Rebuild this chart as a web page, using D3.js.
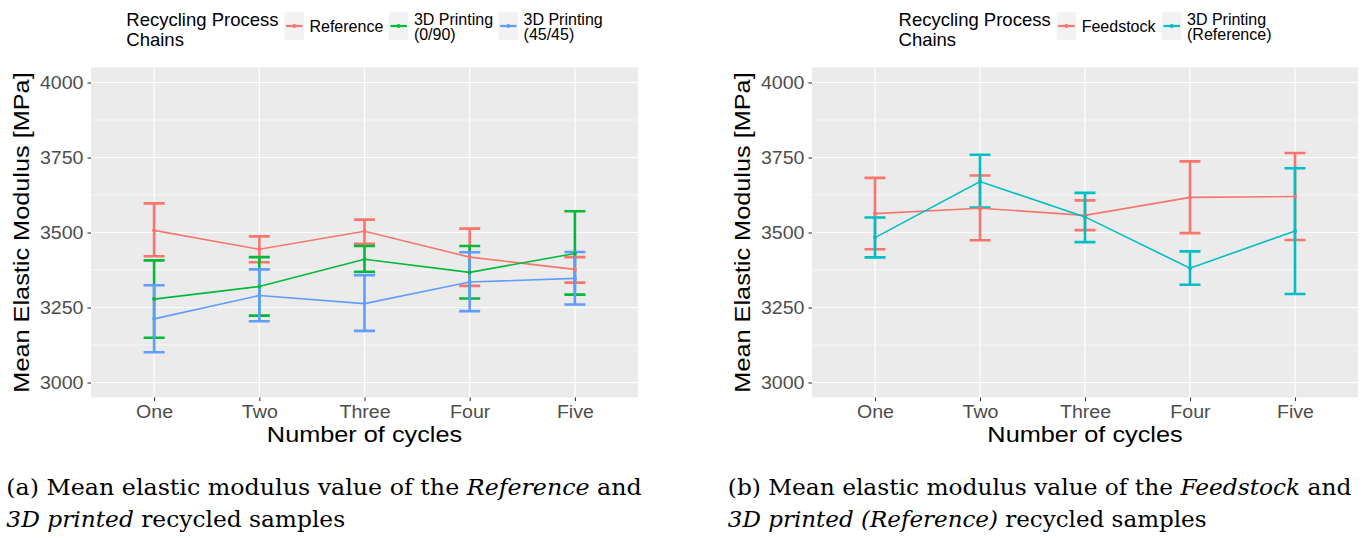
<!DOCTYPE html>
<html><head><meta charset="utf-8">
<script src="https://cdn.jsdelivr.net/npm/d3@7"></script>
<style>body{margin:0;background:#fff;} svg{display:block;}</style>
</head><body><svg id="c" width="1371" height="538"></svg>
<script>
// ---------- DATA ----------
const cycles = ["One", "Two", "Three", "Four", "Five"];
const yTicks = [3000, 3250, 3500, 3750, 4000];
const yMinor = [3125, 3375, 3625, 3875];
const legendTitle = ["Recycling Process", "Chains"];

// Panel (a)
const seriesA = ["Reference", "3D Printing\n(0/90)", "3D Printing\n(45/45)"];
const refMean  = [3507, 3444, 3504, 3418, 3377];
const refLow   = [3421, 3401, 3462, 3322, 3333];
const refHigh  = [3597, 3487, 3543, 3513, 3418];
const p090Mean = [3278, 3320, 3411, 3367, 3430];
const p090Low  = [3149, 3223, 3369, 3280, 3293];
const p090High = [3407, 3418, 3455, 3455, 3571];
const p4545Mean = [3212, 3290, 3263, 3335, 3347];
const p4545Low  = [3101, 3204, 3172, 3238, 3260];
const p4545High = [3324, 3377, 3358, 3434, 3435];

// Panel (b)
const seriesB = ["Feedstock", "3D Printing\n(Reference)"];
const feedMean = [3563, 3581, 3557, 3617, 3620];
const feedLow  = [3444, 3474, 3508, 3498, 3475];
const feedHigh = [3682, 3690, 3607, 3737, 3765];
const pRefMean = [3483, 3670, 3552, 3381, 3505];
const pRefLow  = [3417, 3583, 3468, 3326, 3295];
const pRefHigh = [3550, 3759, 3632, 3437, 3714];

const captionA = [
  [["(a) Mean elastic modulus value of the ", false], ["Reference", true], [" and", false]],
  [["3D printed", true], [" recycled samples", false]]
];
const captionB = [
  [["(b) Mean elastic modulus value of the ", false], ["Feedstock", true], [" and", false]],
  [["3D printed (Reference)", true], [" recycled samples", false]]
];

// ---------- STYLE ----------
const colorsA = ["#F8766D", "#00BA38", "#619CFF"];
const colorsB = ["#F8766D", "#00BFC4"];
const SANS = "'Liberation Sans', Arial, Helvetica, sans-serif";
const SERIF = "'DejaVu Serif', 'Liberation Serif', serif";

const svg = d3.select("#c");

function drawPanel(o) {
  const g = svg.append("g");
  const x = d3.scalePoint().domain(cycles).range([o.x0, o.x1]).padding(0.6);
  const y = d3.scaleLinear().domain([2950, 4050]).range([o.y1, o.y0]);
  const step = x.step();

  g.append("rect").attr("x", o.x0).attr("y", o.y0)
    .attr("width", o.x1 - o.x0).attr("height", o.y1 - o.y0).attr("fill", "#EBEBEB");
  g.selectAll(".mn").data(yMinor).join("line")
    .attr("x1", o.x0).attr("x2", o.x1).attr("y1", d => y(d)).attr("y2", d => y(d))
    .attr("stroke", "#fff").attr("stroke-width", 0.6);
  g.selectAll(".mj").data(yTicks).join("line")
    .attr("x1", o.x0).attr("x2", o.x1).attr("y1", d => y(d)).attr("y2", d => y(d))
    .attr("stroke", "#fff").attr("stroke-width", 1.2);
  g.selectAll(".vx").data(cycles).join("line")
    .attr("x1", d => x(d)).attr("x2", d => x(d)).attr("y1", o.y0).attr("y2", o.y1)
    .attr("stroke", "#fff").attr("stroke-width", 1.2);

  const tickFs = 17.5, tickStretch = 1.12;
  const ya = g.append("g").attr("transform", `translate(${o.x0},0)`)
    .call(d3.axisLeft(y).tickValues(yTicks).tickFormat(d3.format("d")).tickSize(3.5).tickPadding(4));
  ya.select(".domain").remove();
  ya.selectAll("line").attr("stroke", "#333").attr("stroke-width", 1.1);
  ya.selectAll("text").attr("font-family", SANS).attr("font-size", tickFs).attr("fill", "#4D4D4D")
    .attr("transform", function () {
      const X = +d3.select(this).attr("x");
      return `translate(${X},0) scale(${tickStretch},1) translate(${-X},0)`;
    });
  const xa = g.append("g").attr("transform", `translate(0,${o.y1})`)
    .call(d3.axisBottom(x).tickSize(3.5).tickPadding(5));
  xa.select(".domain").remove();
  xa.selectAll("line").attr("stroke", "#333").attr("stroke-width", 1.1);
  xa.selectAll("text").attr("font-family", SANS).attr("font-size", tickFs).attr("fill", "#4D4D4D")
    .attr("transform", `scale(${tickStretch},1)`);

  // axis titles
  const titleFs = 22, titleStretch = 1.15;
  g.append("text").attr("font-family", SANS).attr("font-size", titleFs).attr("fill", "#000")
    .attr("text-anchor", "middle")
    .attr("transform", `translate(${(o.x0 + o.x1) / 2},${o.y1 + 44}) scale(${titleStretch},1)`)
    .text("Number of cycles");
  g.append("text").attr("font-family", SANS).attr("font-size", titleFs).attr("fill", "#000")
    .attr("text-anchor", "middle")
    .attr("transform", `translate(${o.x0 - 62},${(o.y0 + o.y1) / 2}) rotate(-90) scale(${titleStretch},1)`)
    .text("Mean Elastic Modulus [MPa]");

  const hw = step * 0.1;
  // error bars
  o.series.forEach((s, si) => {
    g.append("g").selectAll("path").data(cycles).join("path")
      .attr("d", (c, i) => {
        const cx = x(c), yh = y(s.high[i]), yl = y(s.low[i]);
        return `M${cx - hw},${yh}H${cx + hw}M${cx},${yh}V${yl}M${cx - hw},${yl}H${cx + hw}`;
      })
      .attr("fill", "none").attr("stroke", o.colors[si]).attr("stroke-width", 2.6);
  });
  // lines
  o.series.forEach((s, si) => {
    const line = d3.line().x((d, i) => x(cycles[i])).y(d => y(d));
    g.append("path").attr("d", line(s.mean)).attr("fill", "none")
      .attr("stroke", o.colors[si]).attr("stroke-width", 1.6);
  });
  // points
  o.series.forEach((s, si) => {
    g.append("g").selectAll("circle").data(s.mean).join("circle")
      .attr("cx", (d, i) => x(cycles[i])).attr("cy", d => y(d)).attr("r", 2)
      .attr("fill", o.colors[si]);
  });

  drawLegend((o.x0 + o.x1) / 2, o.labels, o.colors);
}

function drawLegend(cx, labels, colors) {
  const lg = svg.append("g").attr("font-family", SANS);
  const t = lg.append("text").attr("font-size", 18.5).attr("fill", "#000");
  t.append("tspan").attr("x", 0).attr("y", 26).text(legendTitle[0]);
  t.append("tspan").attr("x", 0).attr("y", 45.7).text(legendTitle[1]);
  let xx = t.node().getBBox().width + 6;
  const kw = 19.5, gap = 5.5;
  labels.forEach((lab, i) => {
    lg.append("rect").attr("x", xx).attr("y", 12.3).attr("width", kw).attr("height", 27.7).attr("fill", "#F2F2F2");
    lg.append("line").attr("x1", xx + 1.5).attr("x2", xx + kw - 1.5).attr("y1", 26).attr("y2", 26)
      .attr("stroke", colors[i]).attr("stroke-width", 2.2);
    lg.append("circle").attr("cx", xx + kw / 2).attr("cy", 26).attr("r", 2).attr("fill", colors[i]);
    xx += kw + gap;
    const parts = lab.split("\n");
    const tt = lg.append("text").attr("font-size", 16).attr("fill", "#000");
    if (parts.length === 1) {
      tt.append("tspan").attr("x", xx).attr("y", 32.3).text(parts[0]);
    } else {
      tt.append("tspan").attr("x", xx).attr("y", 25.3).text(parts[0]);
      tt.append("tspan").attr("x", xx).attr("y", 40.3).text(parts[1]);
    }
    xx += tt.node().getBBox().width + gap;
  });
  const total = xx - gap;
  lg.attr("transform", `translate(${cx - total / 2},0)`);
}

function drawCaption(x0, baselines, lines, widths) {
  lines.forEach((segs, li) => {
    const g = svg.append("g");
    const t = g.append("text").attr("font-family", SERIF).attr("font-size", 22).attr("fill", "#000")
      .attr("x", 0).attr("y", 0);
    segs.forEach(([txt, it]) => {
      t.append("tspan").attr("font-style", it ? "italic" : "normal").text(txt);
    });
    const w = t.node().getComputedTextLength();
    g.attr("transform", `translate(${x0},${baselines[li]}) scale(${widths[li] / w},1)`);
  });
}

drawPanel({
  x0: 91, x1: 638, y0: 67.5, y1: 397.5,
  colors: colorsA, labels: seriesA,
  series: [
    { mean: refMean, low: refLow, high: refHigh },
    { mean: p090Mean, low: p090Low, high: p090High },
    { mean: p4545Mean, low: p4545Low, high: p4545High }
  ]
});
drawPanel({
  x0: 812, x1: 1358, y0: 67.5, y1: 397.5,
  colors: colorsB, labels: seriesB,
  series: [
    { mean: feedMean, low: feedLow, high: feedHigh },
    { mean: pRefMean, low: pRefLow, high: pRefHigh }
  ]
});

drawCaption(6.3, [495, 527], captionA, [636, 339]);
drawCaption(727.8, [495, 527], captionB, [624, 479]);
</script>
</body></html>
